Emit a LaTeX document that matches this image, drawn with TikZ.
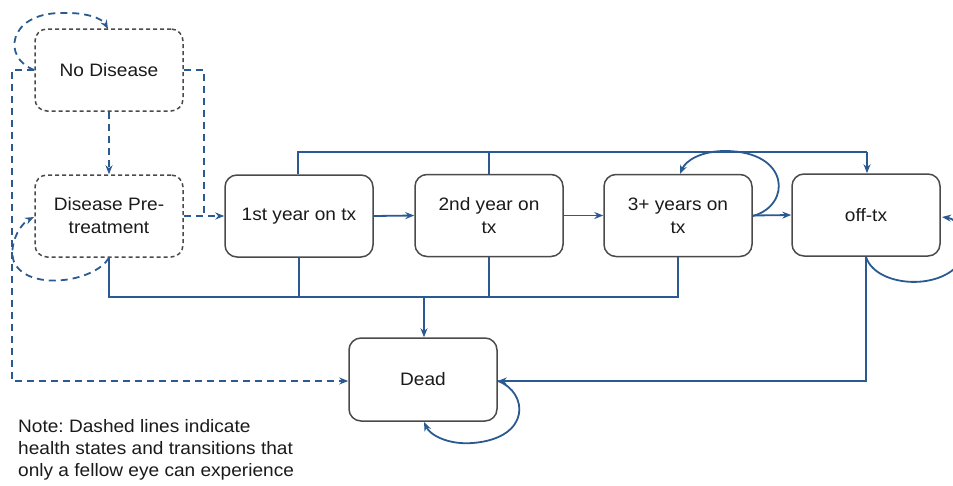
\documentclass[tikz,border=0pt]{standalone}
\usepackage{fontspec}
\setmainfont{Liberation Sans}[FakeStretch=1.06]
\usetikzlibrary{arrows.meta}
\definecolor{lineblue}{HTML}{2B5A92}
\definecolor{boxgray}{HTML}{4A4A4A}
\definecolor{txtgray}{HTML}{1A1A1A}
\frenchspacing
\begin{document}
\begin{tikzpicture}[x=1pt,y=-1pt,
  statebox/.style={draw=boxgray, line width=1.5pt, rounded corners=12pt,
    minimum width=148pt, minimum height=82pt, align=center, text=txtgray,
    font=\fontsize{18}{23}\selectfont},
  fellowbox/.style={statebox, dash pattern=on 4pt off 3pt},
  plain/.style={draw=lineblue, line width=1.8pt},
  link/.style={plain, -{Stealth[length=9pt,width=7pt]}},
  dlink/.style={link, dash pattern=on 7pt off 5pt},
  dplain/.style={plain, dash pattern=on 7pt off 5pt},
]
\useasboundingbox (0,0) rectangle (953,485);

% states
\node[fellowbox] (nd) at (109,70) {No Disease};
\node[fellowbox] (dp) at (109,216) {Disease Pre-\\treatment};
\node[statebox] (y1) at (299,216) {1st year on tx};
\node[statebox] (y2) at (489,215.5) {2nd year on\\tx};
\node[statebox] (y3) at (678,215.5) {3+ years on\\tx};
\node[statebox] (off) at (866,215) {off-tx};
\node[statebox, minimum height=83pt] (dead) at (423,379.5) {Dead};

% note
\node[anchor=north west, align=left, text=txtgray, inner sep=0pt,
  font=\fontsize{18}{22}\selectfont] (note) at (18,419)
  {Note: Dashed lines indicate\\health states and transitions that\\only a fellow eye can experience};

% junction coordinates
\coordinate (ndL) at (12,70);
\coordinate (deadL) at (12,381);
\coordinate (ndR) at (204,70);
\coordinate (ndRd) at (204,217);
\coordinate (dpB) at (109,297);
\coordinate (y3B) at (678,297);
\coordinate (deadT) at (424,297);
\coordinate (y1T) at (298,152);
\coordinate (offT) at (867,152);
\coordinate (offB) at (866,381);

% dashed (fellow eye) transitions
\draw[dlink] (nd.south) -- (dp.north);
\draw[dlink] (dp.east) -- (y1.west);
\draw[dplain] (nd.east) -- (ndR) -- (ndRd);
\draw[dlink] (nd.west) -- (ndL) -- (deadL) -- (dead.west |- deadL);
\draw[dlink] (nd.west) .. controls (2,58) and (8,14) .. (60,13)
  .. controls (85,12) and (102,18) .. (108,29);
\draw[dlink] (dp.south) .. controls (95,282) and (28,292) .. (14,262)
  .. controls (8,245) and (20,224) .. (34,217);

% solid transitions
\draw[link] (y1.east) -- (y2.west);
\draw[link] (y2.east) -- (y3.west);
\draw[link] (y3.east) -- (off.west);
\draw[plain] (dp.south) -- (dpB) -- (y3B) -- (y3.south);
\draw[plain] (y1.south) -- (y1.south |- dpB);
\draw[plain] (y2.south) -- (y2.south |- dpB);
\draw[link] (deadT) -- (deadT |- dead.north);
\draw[plain] (y1.north -| y1T) -- (y1T) -- (offT);
\draw[plain] (y2.north) -- (y2.north |- y1T);
\draw[link] (offT) -- (offT |- off.north);
\draw[link] (off.south) -- (offB) -- (dead.east |- offB);

% self loops
\draw[link] (753,216) .. controls (792,205) and (790,151) .. (725,151)
  .. controls (702,151) and (686,160) .. (680,174);
\draw[link] (866,257) .. controls (876,288) and (945,292) .. (963,258)
  .. controls (972,238) and (958,219) .. (942,217);
\draw[link] (498,381) .. controls (528,392) and (532,438) .. (473,443)
  .. controls (448,445) and (430,435) .. (424,422);
\end{tikzpicture}
\end{document}
